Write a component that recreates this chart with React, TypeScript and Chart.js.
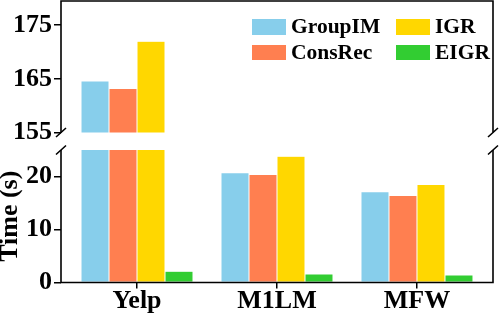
import React, { useEffect, useRef } from "react";
import { Chart, registerables } from "chart.js";

Chart.register(...registerables);

// ---- data ----
const CATEGORIES = ["Yelp", "M1LM", "MFW"];
const SERIES_NAMES = ["GroupIM", "ConsRec", "IGR", "EIGR"];
const GROUPIM = [164.6, 20.7, 17.1];
const CONSREC = [163.2, 20.4, 16.4];
const IGR = [172.0, 23.8, 18.5];
const EIGR = [2.1, 1.6, 1.4];
const SERIES = [GROUPIM, CONSREC, IGR, EIGR];
const COLORS = ["#87CEEB", "#FF7F50", "#FFD700", "#32CD32"];
const TOP_TICKS = [155, 165, 175];
const BOTTOM_TICKS = [0, 10, 20];
const TOP_RANGE = [155, 179.5];
const BOTTOM_RANGE = [0, 25];
const Y_TITLE = "Time (s)";

const FONT_FAMILY = '"Liberation Serif", "Times New Roman", Times, serif';

function framePlugin(isTop: boolean) {
  return {
    id: "frame" + (isTop ? "Top" : "Bottom"),
    afterDraw(chart: any) {
      const { ctx, chartArea } = chart;
      const { left, right, top, bottom } = chartArea;
      ctx.save();
      ctx.strokeStyle = "#000";
      ctx.lineWidth = 1.6;
      ctx.beginPath();
      if (isTop) {
        ctx.moveTo(left, bottom);
        ctx.lineTo(left, top);
        ctx.lineTo(right, top);
        ctx.lineTo(right, bottom);
      } else {
        ctx.moveTo(left, top);
        ctx.lineTo(left, bottom);
        ctx.lineTo(right, bottom);
        ctx.lineTo(right, top);
      }
      ctx.stroke();
      const y = isTop ? bottom : top;
      ctx.beginPath();
      for (const x of [left, right]) {
        ctx.moveTo(x - 5, y + 4.5);
        ctx.lineTo(x + 5, y - 4.5);
      }
      ctx.stroke();
      ctx.restore();
    },
  };
}

function makeChart(canvas: HTMLCanvasElement, isTop: boolean) {
  const [ymin, ymax] = isTop ? TOP_RANGE : BOTTOM_RANGE;
  const yTicks = isTop ? TOP_TICKS : BOTTOM_TICKS;
  const tickFont = { family: FONT_FAMILY, size: 26, weight: "bold" as const, lineHeight: 1 };
  return new Chart(canvas, {
    type: "bar",
    data: {
      datasets: SERIES.map((vals, k) => ({
        label: SERIES_NAMES[k],
        data: vals.map((v, i) => ({ x: i, y: isTop ? (v >= ymin ? v : null) : v })),
        backgroundColor: COLORS[k],
        borderColor: "rgba(255,255,255,0.35)",
        borderWidth: 0.5,
        categoryPercentage: 0.8,
        barPercentage: 1,
        clip: 0,
      })),
    } as any,
    options: {
      animation: false,
      responsive: false,
      maintainAspectRatio: false,
      layout: {
        padding: isTop
          ? { top: 1, bottom: 12.5, left: 0, right: 6 }
          : { top: 10, bottom: 0, left: 0, right: 6 },
      },
      plugins: { legend: { display: false }, tooltip: { enabled: false } },
      scales: {
        x: {
          type: "linear",
          offset: false,
          min: -0.543,
          max: 2.543,
          display: !isTop,
          afterBuildTicks: (s: any) => {
            s.ticks = CATEGORIES.map((_, i) => ({ value: i }));
          },
          afterFit: (s: any) => {
            if (!isTop) s.height = 34.5;
            s.paddingLeft = 0;
            s.paddingRight = 0;
          },
          ticks: {
            callback: (_v: any, i: number) => CATEGORIES[i],
            font: tickFont,
            color: "#000",
            padding: 0,
            maxRotation: 0,
            autoSkip: false,
          },
          grid: {
            offset: false,
            drawOnChartArea: false,
            drawTicks: true,
            tickLength: 6,
            color: "#000",
            lineWidth: 1.5,
          },
          border: { display: false },
        },
        y: {
          min: ymin,
          max: ymax,
          afterBuildTicks: (s: any) => {
            s.ticks = yTicks.map((v) => ({ value: v }));
          },
          afterFit: (s: any) => {
            s.width = 61;
            s.paddingTop = 0;
            s.paddingBottom = 0;
          },
          ticks: { font: tickFont, color: "#000", padding: 2 },
          grid: { drawOnChartArea: false, drawTicks: true, tickLength: 7, color: "#000", lineWidth: 1.5 },
          border: { display: false },
          title: isTop
            ? { display: false }
            : {
                display: true,
                text: Y_TITLE,
                color: "#000",
                padding: 0,
                font: { family: FONT_FAMILY, size: 26, weight: "bold", lineHeight: 0.8 },
              },
        },
      },
    } as any,
    plugins: [framePlugin(isTop)],
  });
}

const LEGEND_POS = [
  { x: 252, y: 19, tx: 291, ty: 16 },
  { x: 252, y: 44.5, tx: 291, ty: 42 },
  { x: 396, y: 19, tx: 435, ty: 16 },
  { x: 396, y: 44.5, tx: 435, ty: 42 },
];

export default function App() {
  const topRef = useRef<HTMLCanvasElement>(null);
  const botRef = useRef<HTMLCanvasElement>(null);

  useEffect(() => {
    const a = makeChart(topRef.current!, true);
    const b = makeChart(botRef.current!, false);
    return () => {
      a.destroy();
      b.destroy();
    };
  }, []);

  return (
    <div style={{ position: "absolute", left: 0, top: 0, width: 499, height: 317, background: "#fff", overflow: "hidden" }}>
      <canvas ref={topRef} width={499} height={145} style={{ position: "absolute", left: 0, top: 0, width: 499, height: 145 }} />
      <canvas ref={botRef} width={499} height={177} style={{ position: "absolute", left: 0, top: 140, width: 499, height: 177 }} />
      {SERIES_NAMES.map((name, k) => (
        <React.Fragment key={name}>
          <div
            style={{
              position: "absolute",
              left: LEGEND_POS[k].x,
              top: LEGEND_POS[k].y,
              width: 34,
              height: 15.5,
              background: COLORS[k],
            }}
          />
          <div
            style={{
              position: "absolute",
              left: LEGEND_POS[k].tx,
              top: LEGEND_POS[k].ty,
              fontFamily: FONT_FAMILY,
              fontWeight: "bold",
              fontSize: 21.5,
              lineHeight: 1,
              color: "#000",
              whiteSpace: "nowrap",
            }}
          >
            {name}
          </div>
        </React.Fragment>
      ))}
    </div>
  );
}
